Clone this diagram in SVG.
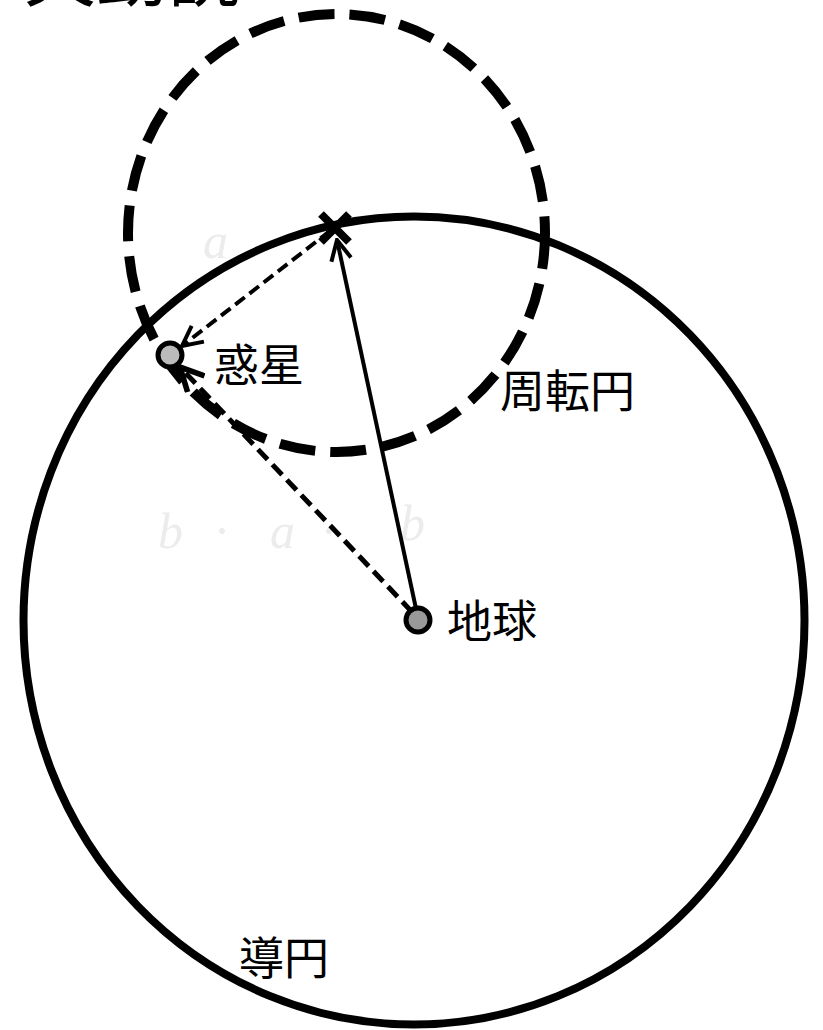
<svg xmlns="http://www.w3.org/2000/svg" width="823" height="1030" viewBox="0 0 823 1030">
<style>
.lbl{font-family:"Noto Sans CJK JP","Noto Sans CJK SC",sans-serif;font-size:45px;fill:#000}
.faint{font-family:"Liberation Serif",serif;font-style:italic;font-size:50px;fill:#ececec}
</style>
<defs>
<marker id="ah" viewBox="0 0 12 12" refX="11" refY="6" markerWidth="24" markerHeight="24" markerUnits="userSpaceOnUse" orient="auto">
<path d="M1,1 L11,6 L1,11" fill="none" stroke="#000" stroke-width="2"/>
</marker>
<marker id="ah2" viewBox="0 0 12 12" refX="11" refY="6" markerWidth="28" markerHeight="28" markerUnits="userSpaceOnUse" orient="auto">
<path d="M1,1 L11,6 L1,11" fill="none" stroke="#000" stroke-width="2.4"/>
</marker>
</defs>
<rect width="823" height="1030" fill="#fff"/>
<text x="24" y="0" style="font-family:'Noto Sans CJK JP',sans-serif;font-size:72px">天動説</text>
<g id="faint-labels">
<text class="faint" x="203" y="258">a</text>
<text class="faint" x="158" y="548">b</text>
<text class="faint" x="215" y="548">·</text>
<text class="faint" x="270" y="548">a</text>
<text class="faint" x="322" y="548">·</text>
<text class="faint" x="400" y="540">b</text>
</g>
<g id="deferent">
<ellipse cx="414" cy="620.5" rx="390.5" ry="404" fill="none" stroke="#000" stroke-width="8"/>
</g>
<g id="epicycle">
<ellipse cx="336.5" cy="233" rx="208.5" ry="219" fill="none" stroke="#000" stroke-width="10" stroke-dasharray="36 15"/>
</g>
<g id="connectors">
<line x1="418" y1="618" x2="337" y2="240" stroke="#000" stroke-width="4" marker-end="url(#ah)"/>
<line x1="330" y1="231" x2="182" y2="346" stroke="#000" stroke-width="4" stroke-dasharray="12 6" marker-end="url(#ah)"/>
<line x1="412" y1="612" x2="180" y2="367" stroke="#000" stroke-width="5" stroke-dasharray="14 7" marker-end="url(#ah2)"/>
</g>
<g id="center-mark">
<path d="M321,214 L349,242 M349,214 L321,242" stroke="#000" stroke-width="8"/>
</g>
<g id="planet">
<circle cx="170" cy="355" r="12" fill="#bbb" stroke="#000" stroke-width="5"/>
<text class="lbl" x="214" y="382">惑星</text>
</g>
<g id="earth">
<circle cx="418" cy="620" r="12" fill="#999" stroke="#000" stroke-width="5"/>
<text class="lbl" x="447" y="638">地球</text>
</g>
<g id="epicycle-label"><text class="lbl" x="500" y="408">周転円</text></g>
<g id="deferent-label"><text class="lbl" x="239" y="975">導円</text></g>
</svg>
